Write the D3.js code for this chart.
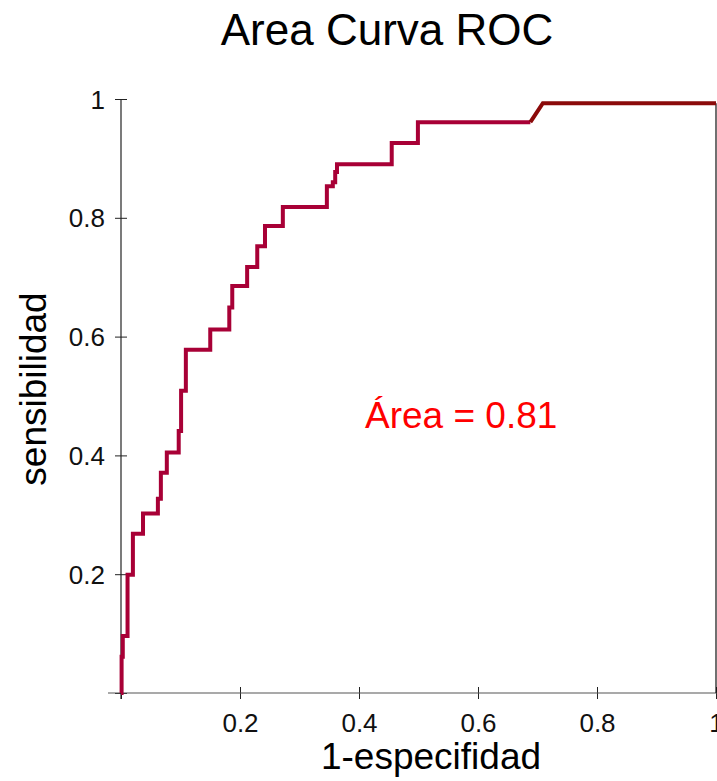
<!DOCTYPE html>
<html>
<head>
<meta charset="utf-8">
<script src="https://cdn.jsdelivr.net/npm/d3@7"></script>
<style>
  body { margin: 0; background: #fff; }
  text { font-family: "Liberation Sans", Arial, Helvetica, sans-serif; }
</style>
</head>
<body>
<div id="roc"></div>
<script>
// step corners of the ROC curve: x of each vertical step and the tpr reached there
var fpr = [0, 0.001, 0.003, 0.011, 0.020, 0.037, 0.062, 0.067, 0.077, 0.097, 0.101, 0.109,
           0.150, 0.182, 0.187, 0.212, 0.229, 0.242, 0.272, 0.346, 0.356, 0.360, 0.363,
           0.455, 0.499, 0.688];
var tpr = [0, 0.061, 0.096, 0.199, 0.268, 0.302, 0.327, 0.371, 0.405, 0.441, 0.509, 0.578,
           0.612, 0.649, 0.685, 0.717, 0.752, 0.786, 0.818, 0.853, 0.860, 0.877, 0.890,
           0.926, 0.961, 0.961];
// last part of the curve, drawn darker
var tailFpr = [0.688, 0.709, 1];
var tailTpr = [0.961, 0.993, 0.993];

var tickVals = [0, 0.2, 0.4, 0.6, 0.8, 1];
var tickLabels = ["", "0.2", "0.4", "0.6", "0.8", "1"];

var svg = d3.select("#roc").append("svg")
  .attr("width", 717)
  .attr("height", 781);

var x = d3.scaleLinear().domain([0, 1]).range([121, 716]);
var y = d3.scaleLinear().domain([0, 1]).range([693, 99]);

// axes
var xAxis = svg.append("g")
  .attr("transform", "translate(0,693)")
  .call(d3.axisBottom(x).tickValues(tickVals)
    .tickFormat(function(d, i){ return tickLabels[i]; }).tickSizeOuter(0));
xAxis.select(".domain").remove();
xAxis.selectAll(".tick line").attr("y1", -6).attr("y2", 6).attr("stroke", "#222");
xAxis.selectAll(".tick text")
  .attr("y", 39).attr("dy", 0)
  .style("font-size", "26px").style("fill", "#111");

var yAxis = svg.append("g")
  .attr("transform", "translate(121,0)")
  .call(d3.axisLeft(y).tickValues(tickVals)
    .tickFormat(function(d, i){ return tickLabels[i]; }).tickSizeOuter(0));
yAxis.select(".domain").remove();
yAxis.selectAll(".tick line").attr("x1", -6).attr("x2", 6).attr("stroke", "#222");
yAxis.selectAll(".tick text")
  .attr("x", -16).attr("dy", "0.35em")
  .style("font-size", "26px").style("fill", "#111");

svg.append("line")
  .attr("x1", x(0) - 13)
  .attr("y1", y(0))
  .attr("x2", x(1) + 1)
  .attr("y2", y(0))
  .attr("stroke-width", 1.2)
  .attr("stroke", "#555");

svg.append("line")
  .attr("x1", x(0))
  .attr("y1", y(1))
  .attr("x2", x(0))
  .attr("y2", y(0) + 6)
  .attr("stroke-width", 1.2)
  .attr("stroke", "#222");

// right edge drop of the curve
svg.append("line")
  .attr("x1", x(tailFpr[tailFpr.length - 1]))
  .attr("y1", y(tailTpr[tailTpr.length - 1]))
  .attr("x2", x(tailFpr[tailFpr.length - 1]))
  .attr("y2", y(0))
  .attr("stroke-width", 1.2)
  .attr("stroke", "#111");

// curve
var pts = fpr.map(function(d, i){ return [d, tpr[i]]; });
var line = d3.line()
  .x(function(d){ return x(d[0]); })
  .y(function(d){ return y(d[1]); })
  .curve(d3.curveStepAfter);

svg.append("path")
  .datum(pts)
  .attr("d", line)
  .attr("fill", "none")
  .attr("stroke-width", 4)
  .attr("stroke", "#a80036");

var tail = tailFpr.map(function(d, i){ return [d, tailTpr[i]]; });
svg.append("path")
  .datum(tail)
  .attr("d", line.curve(d3.curveLinear))
  .attr("fill", "none")
  .attr("stroke-width", 4)
  .attr("stroke", "#8b0a0a");

// texts
svg.append("text")
  .attr("x", 387)
  .attr("y", 45)
  .attr("text-anchor", "middle")
  .style("font-size", "44px")
  .style("fill", "#000")
  .text("Area Curva ROC");

svg.append("text")
  .attr("transform", "translate(46,389) rotate(-90)")
  .attr("text-anchor", "middle")
  .style("font-size", "37px")
  .style("fill", "#000")
  .text("sensibilidad");

svg.append("text")
  .attr("x", 431)
  .attr("y", 769)
  .attr("text-anchor", "middle")
  .style("font-size", "37px")
  .style("fill", "#000")
  .text("1-especifidad");

svg.append("text")
  .attr("x", 365)
  .attr("y", 428)
  .style("font-size", "37px")
  .style("fill", "#ff0000")
  .text("Área = 0.81");
</script>
</body>
</html>
